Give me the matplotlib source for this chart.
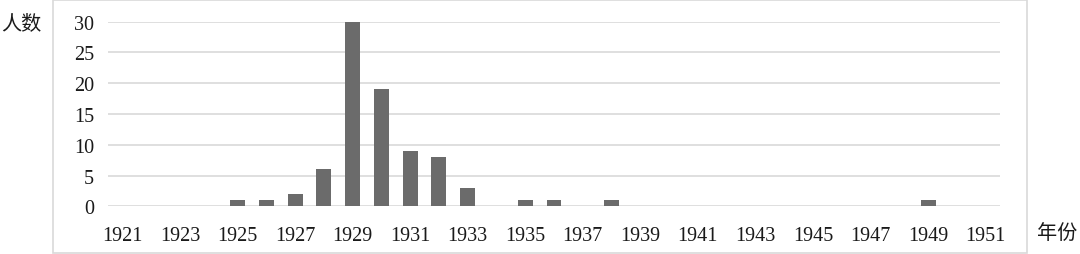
import matplotlib.pyplot as plt
from matplotlib.patches import Rectangle

# data
years = list(range(1921, 1952))
counts = [0, 0, 0, 0, 1, 1, 2, 6, 30, 19, 9, 8, 3, 0, 1, 1, 0, 1, 0, 0,
          0, 0, 0, 0, 0, 0, 0, 0, 1, 0, 0]
y_ticks = [0, 5, 10, 15, 20, 25, 30]

plt.rcParams['font.family'] = ['Liberation Serif', 'Noto Sans CJK SC']

fig = plt.figure(figsize=(10.8, 2.55), dpi=100)
W, H = 1080, 255

# outer chart frame
fig.patches.append(Rectangle((52.5 / W, 1 / H), (1027 - 52.5) / W, (254 - 1) / H,
                             transform=fig.transFigure, fill=False,
                             edgecolor='#d9d9d9', linewidth=1.2))

ax = fig.add_axes([108 / W, (H - 207.3) / H, 892 / W, 184.6 / H])
x = list(range(len(years)))
ax.bar(x, counts, width=0.52, color='#6b6b6b', zorder=3)

ax.set_xlim(-0.5, len(years) - 0.5)
ax.set_ylim(0, 30)
ax.set_yticks(y_ticks)
ax.set_xticks(x[::2])
ax.set_xticklabels([str(y) for y in years[::2]])
ax.tick_params(axis='both', length=0, labelsize=14.5, colors='#1a1a1a')
ax.tick_params(axis='x', pad=14)
ax.tick_params(axis='y', pad=10)
ax.grid(axis='y', color='#d9d9d9', linewidth=1.2, zorder=0)
for s in ax.spines.values():
    s.set_visible(False)

fig.text(1.5 / W, 1 - 24 / H, '人数', fontsize=14.5, va='center', ha='left',
         family=['Noto Sans CJK SC'], color='#1a1a1a')
fig.text(1057.5 / W, 1 - 233 / H, '年份', fontsize=14.5, va='center', ha='center',
         family=['Noto Sans CJK SC'], color='#1a1a1a')

fig.savefig('out.png', dpi=100)
